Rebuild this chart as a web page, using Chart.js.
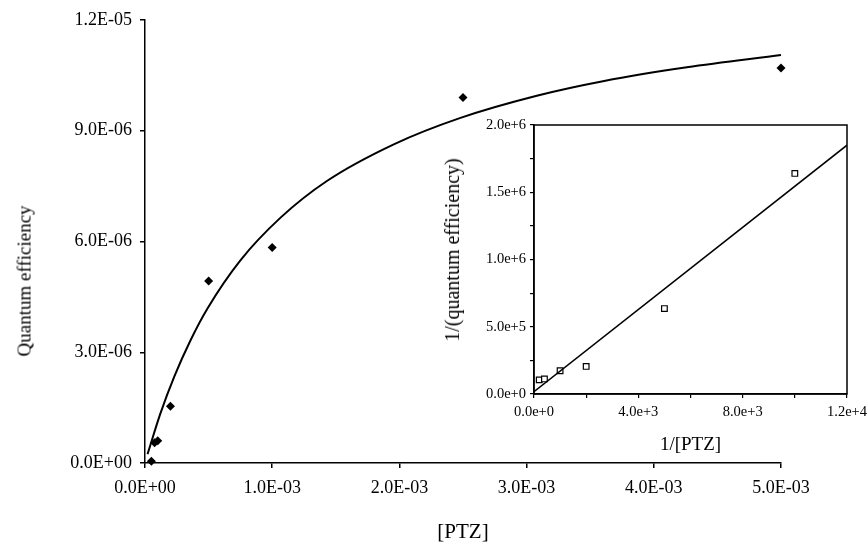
<!DOCTYPE html>
<html lang="en">
<head>
  <meta charset="UTF-8" />
  <title>Quantum efficiency vs [PTZ]</title>
  <script src="https://cdn.jsdelivr.net/npm/chart.js"></script>
  <style>
    html, body {
      margin: 0;
      background: #ffffff;
      overflow: hidden;
    }
    .wrap {
      position: relative;
      width: 868px;
      height: 546px;
      overflow: hidden;
    }
    #mainChart {
      position: absolute;
      left: 0;
      top: 0;
    }
    #insetChart {
      position: absolute;
      left: 420px;
      top: 110px;
    }
    .ytitle {
      position: absolute;
      transform: translate(-50%, -50%) rotate(-90deg);
      white-space: nowrap;
      line-height: 1;
      color: #000;
      font-family: 'Liberation Serif', 'Times New Roman', serif;
    }
  </style>
</head>
<body>
  <div class="wrap">
    <canvas id="mainChart" width="868" height="546"></canvas>
    <canvas id="insetChart" width="460" height="350"></canvas>
    <div class="ytitle" style="left:24px; top:281px; font-size:19px;">Quantum efficiency</div>
    <div class="ytitle" style="left:452px; top:250px; font-size:20px;">1/(quantum efficiency)</div>
  </div>

  <script>
    // main plot: measured points
    const ptzConc = [5e-5, 7.5e-5, 1e-4, 2e-4, 5e-4, 1e-3, 2.5e-3, 5e-3];
    const quantumEff = [0.05e-6, 0.55e-6, 0.6e-6, 1.54e-6, 4.93e-6, 5.84e-6, 9.9e-6, 10.7e-6];

    // main plot: fitted curve
    const fitX = [0.02e-3, 0.12e-3, 0.23e-3, 0.36e-3, 0.49e-3, 0.75e-3, 1.07e-3, 1.43e-3, 1.96e-3, 2.48e-3, 3.08e-3, 3.61e-3, 4.26e-3, 5.0e-3];
    const fitY = [0.24e-6, 1.33e-6, 2.34e-6, 3.34e-6, 4.18e-6, 5.49e-6, 6.66e-6, 7.64e-6, 8.64e-6, 9.35e-6, 9.95e-6, 10.35e-6, 10.72e-6, 11.05e-6];

    // inset: double reciprocal plot
    const invPtz = [200, 400, 1000, 2000, 5000, 10000];
    const invEff = [1.05e5, 1.12e5, 1.73e5, 2.05e5, 6.35e5, 1.64e6];
    const lineX = [0, 12000];
    const lineY = [1.7e4, 1.85e6];

    const serif = "'Liberation Serif', 'Times New Roman', serif";

    function pairs(xs, ys) {
      return xs.map((x, i) => ({x: x, y: ys[i]}));
    }

    // 1.2E-05 style labels
    function fmtE(v) {
      const parts = Number(v).toExponential(1).split('e');
      const n = parseInt(parts[1], 10);
      return parts[0] + 'E' + (n < 0 ? '-' : '+') + String(Math.abs(n)).padStart(2, '0');
    }

    // draws the box round the inset plot
    const frame = {
      id: 'frame',
      afterDraw(chart) {
        const a = chart.chartArea;
        const c = chart.ctx;
        c.save();
        c.strokeStyle = '#000';
        c.lineWidth = 1.5;
        c.strokeRect(a.left, a.top, a.right - a.left, a.bottom - a.top);
        c.restore();
      }
    };

    new Chart(document.getElementById('mainChart'), {
      type: 'scatter',
      data: {
        datasets: [
          {
            data: pairs(fitX, fitY),
            showLine: true,
            borderColor: '#000',
            borderWidth: 2,
            pointRadius: 0,
            cubicInterpolationMode: 'monotone',
            clip: false
          },
          {
            data: pairs(ptzConc, quantumEff),
            pointStyle: 'rectRot',
            pointRadius: 4.5,
            backgroundColor: '#000',
            borderColor: '#000',
            borderWidth: 0,
            clip: false
          }
        ]
      },
      options: {
        responsive: false,
        animation: false,
        devicePixelRatio: 1,
        layout: { padding: { left: 0, top: 20, right: 87, bottom: 0 } },
        plugins: { legend: { display: false }, tooltip: { enabled: false } },
        scales: {
          x: {
            type: 'linear',
            min: 0,
            max: 5e-3,
            afterFit: s => { s.height = 83; },
            border: { display: true, color: '#000', width: 1.5 },
            grid: { drawOnChartArea: false, drawTicks: true, tickLength: 5, color: '#000', lineWidth: 1.5 },
            ticks: {
              stepSize: 1e-3,
              autoSkip: false,
              maxRotation: 0,
              padding: 9,
              color: '#000',
              font: { family: serif, size: 18 },
              callback: v => fmtE(v)
            },
            title: {
              display: true,
              text: '[PTZ]',
              color: '#000',
              font: { family: serif, size: 21 },
              padding: { top: 0, bottom: 1 }
            }
          },
          y: {
            type: 'linear',
            min: 0,
            max: 1.2e-5,
            afterFit: s => { s.width = 145; },
            border: { display: true, color: '#000', width: 1.5 },
            grid: { drawOnChartArea: false, drawTicks: true, tickLength: 5, color: '#000', lineWidth: 1.5 },
            ticks: {
              stepSize: 3e-6,
              autoSkip: false,
              padding: 8,
              color: '#000',
              font: { family: serif, size: 18 },
              callback: v => fmtE(v)
            }
          }
        }
      }
    });

    new Chart(document.getElementById('insetChart'), {
      type: 'scatter',
      data: {
        datasets: [
          {
            data: pairs(lineX, lineY),
            showLine: true,
            borderColor: '#000',
            borderWidth: 1.5,
            pointRadius: 0
          },
          {
            data: pairs(invPtz, invEff),
            pointStyle: 'rect',
            pointRadius: 4,
            backgroundColor: '#fff',
            borderColor: '#000',
            borderWidth: 1.2
          },
          {
            // the small dot in the middle of each square
            data: pairs(invPtz, invEff),
            pointStyle: 'circle',
            pointRadius: 0.8,
            backgroundColor: '#000',
            borderWidth: 0
          }
        ]
      },
      options: {
        responsive: false,
        animation: false,
        devicePixelRatio: 1,
        layout: { padding: { left: 0, top: 15, right: 33, bottom: 0 } },
        plugins: { legend: { display: false }, tooltip: { enabled: false } },
        scales: {
          x: {
            type: 'linear',
            min: 0,
            max: 12000,
            afterFit: s => { s.height = 66; },
            border: { display: true, color: '#000', width: 1.5 },
            grid: { drawOnChartArea: false, drawTicks: true, tickLength: 4, color: '#000', lineWidth: 1.2 },
            ticks: {
              stepSize: 2000,
              autoSkip: false,
              maxRotation: 0,
              padding: 5,
              color: '#000',
              font: { family: serif, size: 14.5 },
              callback: v => (Math.round(v / 2000) % 2 === 0 ? Number(v).toExponential(1) : '')
            },
            title: {
              display: true,
              text: '1/[PTZ]',
              color: '#000',
              font: { family: serif, size: 19 },
              padding: { top: 0, bottom: 4 }
            }
          },
          y: {
            type: 'linear',
            min: 0,
            max: 2e6,
            afterFit: s => { s.width = 114; },
            border: { display: true, color: '#000', width: 1.5 },
            grid: { drawOnChartArea: false, drawTicks: true, tickLength: 4, color: '#000', lineWidth: 1.2 },
            ticks: {
              stepSize: 2.5e5,
              autoSkip: false,
              padding: 4,
              color: '#000',
              font: { family: serif, size: 14.5 },
              callback: v => (Math.round(v / 2.5e5) % 2 === 0 ? Number(v).toExponential(1) : '')
            }
          }
        }
      },
      plugins: [frame]
    });
  </script>
</body>
</html>
